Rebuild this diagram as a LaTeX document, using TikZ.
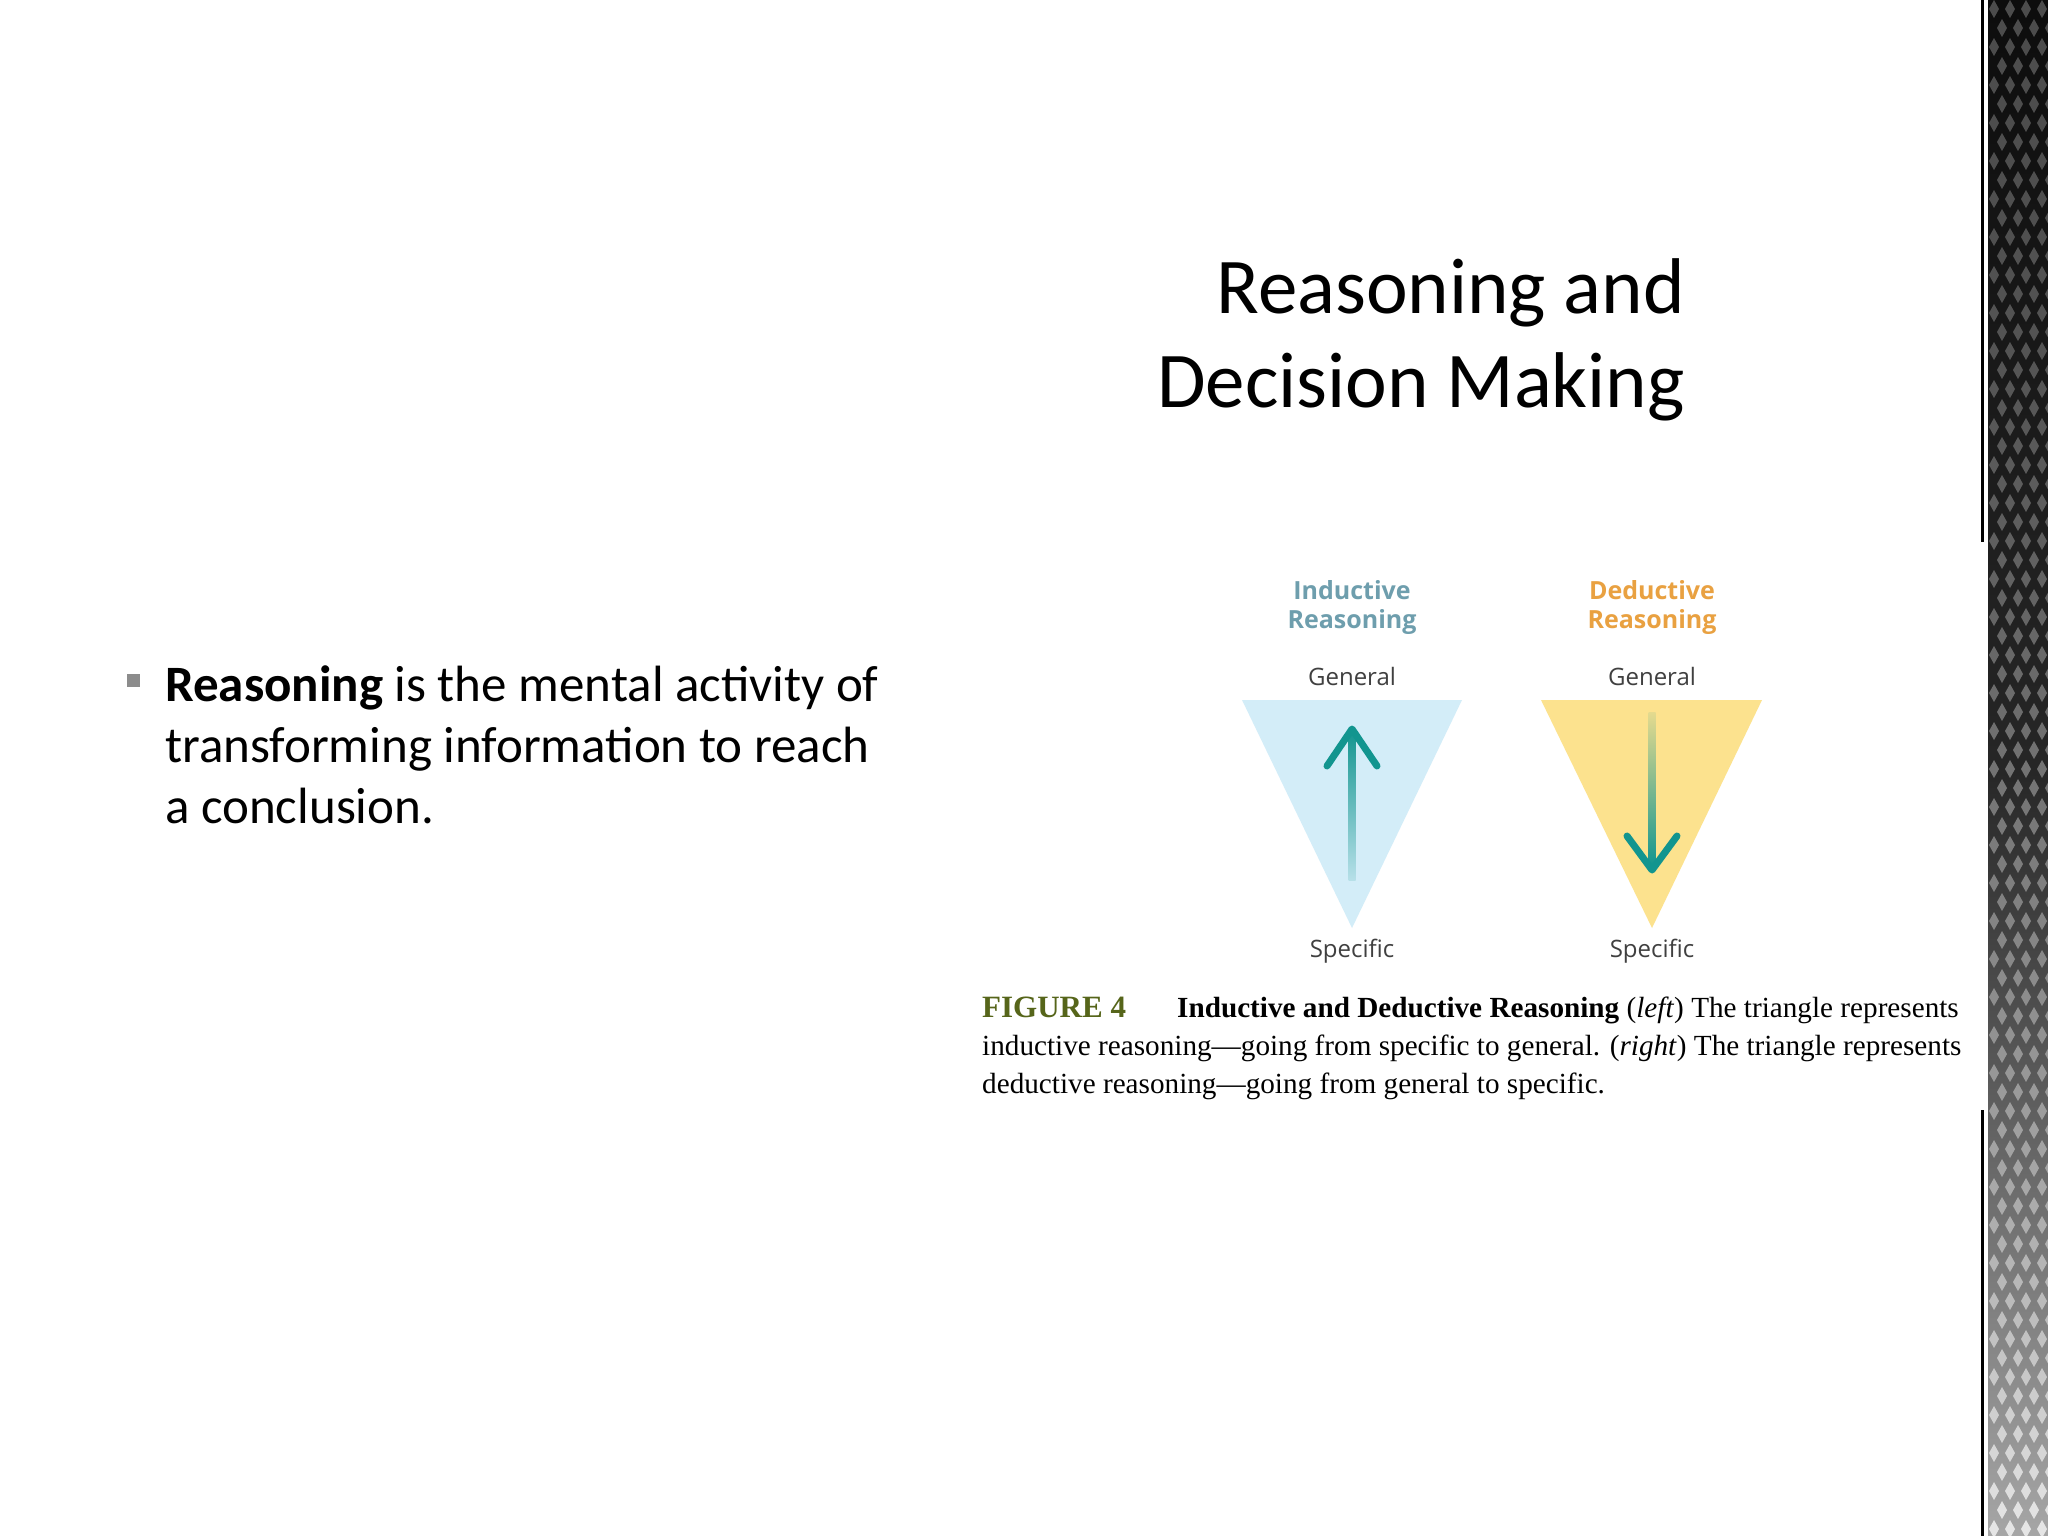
\documentclass[tikz,border=0pt]{standalone}
\usepackage{fontspec}
\setmainfont{Carlito}
\newfontfamily\osans{Open Sans}
\newfontfamily\tms[Ligatures=TeX]{Liberation Serif}
\usetikzlibrary{fadings,shadings}
\definecolor{teal1}{HTML}{12958F}
\definecolor{tblue}{HTML}{D3EDF8}
\definecolor{tyel}{HTML}{FCE28E}
\definecolor{indc}{HTML}{6E9EAD}
\definecolor{dedc}{HTML}{E9A141}
\definecolor{olive}{HTML}{56651A}
\tikzset{
 lbl/.style={font=\osans\fontsize{24}{28}\selectfont, text=black!75},
 hd/.style={font=\osans\bfseries\fontsize{25}{29}\selectfont, align=center},
 captxt/.style={font=\tms\fontsize{29.2}{32}\selectfont, anchor=base west, inner sep=0pt},
 arr/.style={line width=7pt, teal1},
}
\begin{document}
\begin{tikzpicture}[x=1pt,y=-1pt]
\useasboundingbox (0,0) rectangle (2048,1536);
\fill[white] (0,0) rectangle (2048,1536);
% right pattern
\shade[top color=black!95, bottom color=black!35, middle color=black!85] (1988,0) rectangle (2048,1536);
\foreach \i in {0,...,80}{
  \foreach \j in {0,1,2,3}{
    \pgfmathsetmacro\g{30+60*(\i/80)^2}
    \fill[white!\g!black] ({1994+\j*16+mod(\i,2)*8},{\i*19}) -- ++(5,9) -- ++(-5,9) -- ++(-5,-9) -- cycle;
  }}
\draw[line width=3pt] (1982,0) -- (1982,542);
\draw[line width=3pt] (1982,1110) -- (1982,1536);
% title
\node[anchor=base east, align=right, font=\fontsize{79}{94}\selectfont, inner sep=0pt] (title) at (1685,407) {Reasoning and\\Decision Making};
% bullet
\fill[black!45] (127,674) rectangle (140,687) coordinate (bul);
\node[anchor=base west, align=left, inner sep=0pt, font=\fontsize{51}{61}\selectfont] (btext) at (165,823)
 {\textbf{Reasoning} is the mental activity of\\transforming information to reach\\a conclusion.};
% triangles
\fill[tblue] (1242,700) -- (1462,700) -- (1352,928) -- cycle;
\fill[tyel] (1541,700) -- (1762,700) -- (1652,928) -- cycle;
% arrows
\shade[top color=teal1, bottom color=teal1!15!tblue] (1348.5,730) rectangle (1355.5,880);
\draw[arr, line cap=round, line join=round] (1327,766) -- (1352,729) -- (1377,766);
\shade[bottom color=teal1, top color=teal1!10!tyel] (1648.5,712) rectangle (1655.5,866);
\draw[arr, line cap=round, line join=round] (1627,836) -- (1652,870) -- (1677,836);
\node[hd, text=indc] (ind) at (1352,608) {Inductive\\Reasoning};
\node[hd, text=dedc] (ded) at (1652,608) {Deductive\\Reasoning};
\node[lbl] (g1) at (1352,676) {General};
\node[lbl] (g2) at (1652,676) {General};
\node[lbl] (s1) at (1352,951) {Specific};
\node[lbl] (s2) at (1652,951) {Specific};
% caption
\node[captxt, text=olive, font=\tms\bfseries\fontsize{31}{32}\selectfont] (fig) at (982,1017) {FIGURE 4};
\node[captxt] (c1) at (1177,1017) {\textbf{Inductive and Deductive Reasoning} (\textit{left}) The triangle represents};
\node[captxt] (c2) at (982,1055) {inductive reasoning—going from specific to general. (\textit{right}) The triangle represents};
\node[captxt] (c3) at (982,1093) {deductive reasoning—going from general to specific.};
\end{tikzpicture}
\end{document}
